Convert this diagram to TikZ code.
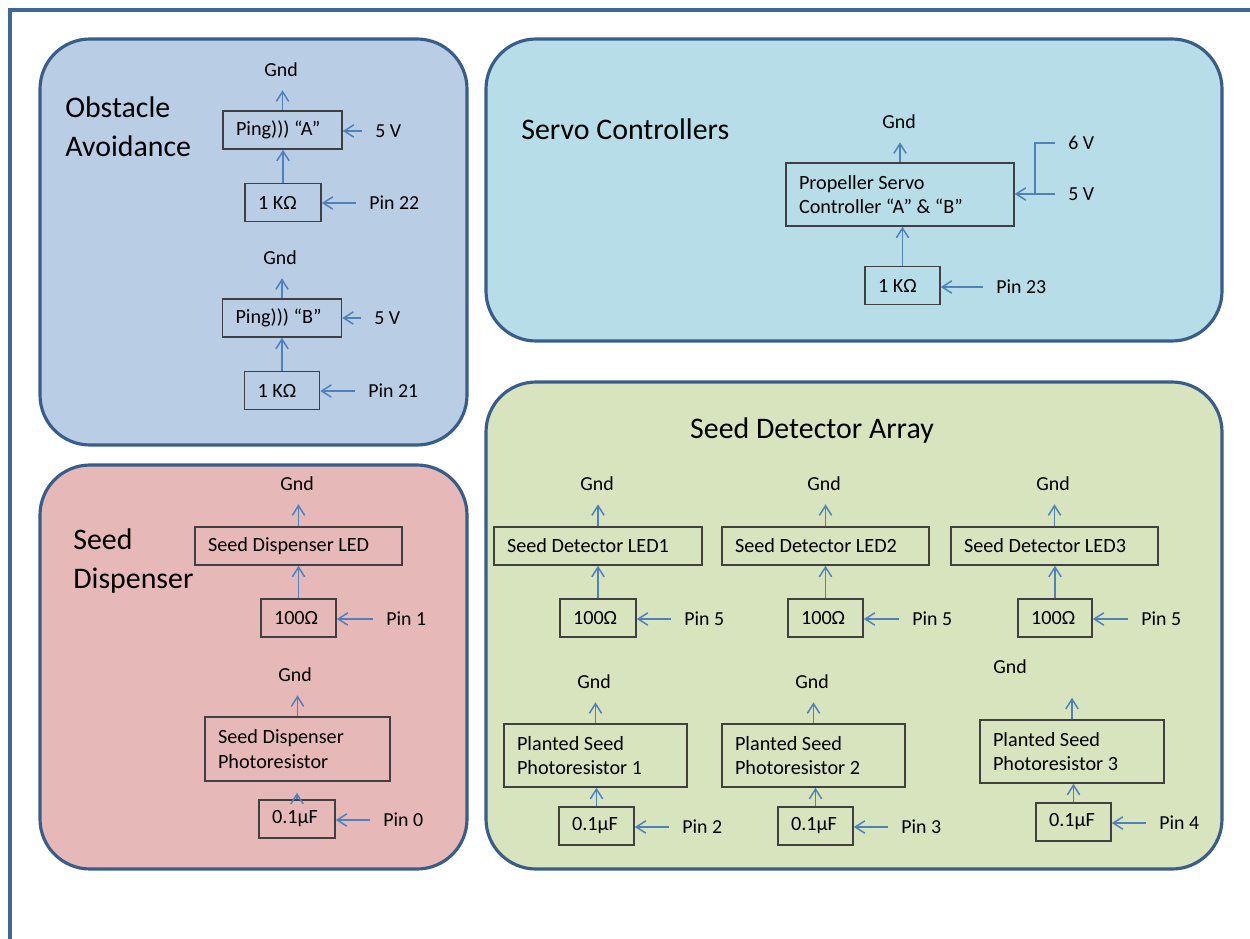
\documentclass[tikz,border=0pt]{standalone}
\usepackage{fontspec}
\setmainfont{Carlito}
\usetikzlibrary{arrows.meta}
\definecolor{framecol}{HTML}{41679A}
\definecolor{panelline}{HTML}{385D8A}
\definecolor{obstfill}{HTML}{B9CDE5}
\definecolor{servofill}{HTML}{B7DEE8}
\definecolor{dispfill}{HTML}{E6B9B8}
\definecolor{detfill}{HTML}{D7E4BD}
\definecolor{partline}{HTML}{404040}
\definecolor{wirecol}{HTML}{4F81BD}
\tikzset{
  panel/.style={draw=panelline, line width=1.8pt, rounded corners=1cm},
  part/.style={draw=partline, line width=0.9pt, inner xsep=0.26cm, inner ysep=0pt, minimum height=0.76cm, align=left, font=\fontsize{11.5}{14}\selectfont, execute at begin node={\spaceskip=0pt\xspaceskip=0pt}},
  lbl/.style={inner sep=0pt, font=\fontsize{11.3}{14}\selectfont},
  title/.style={inner sep=0pt, align=left, font=\fontsize{17}{22}\selectfont},
  wire/.style={draw=wirecol, line width=0.85pt, -{Straight Barb[length=5.5pt,width=7pt]}},
}

\begin{document}
\begin{tikzpicture}[x=0.02cm, y=-0.02cm]
\useasboundingbox (0,0) rectangle (1250,939);
\draw[framecol, line width=2pt] (1250,10) -- (10,10) -- (10,939);

\draw[panel, fill=obstfill] (40,39) rectangle (467,445);
\draw[panel, fill=servofill] (486,39) rectangle (1222,341);
\draw[panel, fill=dispfill] (40,465) rectangle (467,869);
\draw[panel, fill=detfill] (486,382) rectangle (1222,869);

\node[title, anchor=west] (obsT) at (65,127) {Obstacle\\Avoidance};
\node[lbl] (gndA) at (281,70) {Gnd};
\node[part, text width=1.86cm] (pingA) at (282.5,130) {Ping))) “A”};
\node[part, text width=1cm] (resA) at (283,202.5) {1 KΩ};
\node[lbl, anchor=west] (vA) at (375,131) {5 V};
\node[lbl, anchor=west] (pinA) at (369,203) {Pin 22};
\draw[wire, shorten >=0.26cm] (pingA.north) -- (pingA.north |- gndA.south);
\draw[wire] (resA.north) -- (resA.north |- pingA.south);
\draw[wire, shorten <=0.26cm] (vA.west) -- (vA.west -| pingA.east);
\draw[wire, shorten <=0.26cm] (pinA.west) -- (pinA.west -| resA.east);

\node[lbl] (gndB) at (280,258) {Gnd};
\node[part, text width=1.86cm] (pingB) at (282,318) {Ping))) “B”};
\node[part, text width=0.98cm] (resB) at (282,390.5) {1 KΩ};
\node[lbl, anchor=west] (vB) at (374,318) {5 V};
\node[lbl, anchor=west] (pinB) at (368,391) {Pin 21};
\draw[wire, shorten >=0.26cm] (pingB.north) -- (pingB.north |- gndB.south);
\draw[wire] (resB.north) -- (resB.north |- pingB.south);
\draw[wire, shorten <=0.26cm] (vB.west) -- (vB.west -| pingB.east);
\draw[wire, shorten <=0.26cm] (pinB.west) -- (pinB.west -| resB.east);

\node[title, anchor=west] (srvT) at (521,129) {Servo Controllers};
\node[lbl] (gndS) at (899,122) {Gnd};
\node[part, text width=4.04cm, minimum height=1.26cm] (srv) at (900,194.5) {Propeller Servo\\Controller “A” \& “B”};
\node[part, text width=0.98cm] (resS) at (902.5,285.5) {1 KΩ};
\node[lbl, anchor=west] (v6) at (1068,143) {6 V};
\node[lbl, anchor=west] (v5) at (1068,194) {5 V};
\node[lbl, anchor=west] (pinS) at (996,287) {Pin 23};
\draw[wire, shorten >=0.26cm] (srv.north) -- (srv.north |- gndS.south);
\draw[wire] (resS.north) -- (resS.north |- srv.south);
\draw[wire, -] ([xshift=-0.26cm]v6.west) -| ([xshift=-0.66cm]v5.west);
\draw[wire, shorten <=0.26cm] (v5.west) -- (v5.west -| srv.east);
\draw[wire, shorten <=0.26cm] (pinS.west) -- (pinS.west -| resS.east);

\node[title, anchor=west] (dspT) at (73,561) {Seed\\Dispenser};
\node[lbl] (gndD1) at (297,484) {Gnd};
\node[part, text width=3.62cm] (ledD) at (298.5,546) {Seed Dispenser LED};
\node[part, text width=0.98cm] (resD) at (298.5,618) {100Ω};
\node[lbl, anchor=west] (pinD1) at (386,619) {Pin 1};
\draw[wire, shorten >=0.26cm] (ledD.north) -- (ledD.north |- gndD1.south);
\draw[wire] (resD.north) -- (resD.north |- ledD.south);
\draw[wire, shorten <=0.26cm] (pinD1.west) -- (pinD1.west -| resD.east);

\node[lbl] (gndD2) at (295,675) {Gnd};
\node[part, text width=3.18cm, minimum height=1.28cm] (prD) at (297.5,749) {Seed Dispenser\\Photoresistor};
\node[part, text width=1cm] (capD) at (297,819) {0.1µF};
\node[lbl, anchor=west] (pinD0) at (383,820) {Pin 0};
\draw[wire, shorten >=0.26cm] (prD.north) -- (prD.north |- gndD2.south);
\draw[wire, shorten >=0.22cm] (capD.north) -- (capD.north |- prD.south);
\draw[wire, shorten <=0.26cm] (pinD0.west) -- (pinD0.west -| capD.east);

\node[title] (detT) at (812,431) {Seed Detector Array};
\node[lbl] (gndL1) at (597,484) {Gnd};
\node[part, text width=3.64cm] (led1) at (598,546) {Seed Detector LED1};
\node[part, text width=1cm] (res1) at (598,618) {100Ω};
\node[lbl, anchor=west] (pinL1) at (684,619) {Pin 5};
\draw[wire, shorten >=0.26cm] (led1.north) -- (led1.north |- gndL1.south);
\draw[wire] (res1.north) -- (res1.north |- led1.south);
\draw[wire, shorten <=0.26cm] (pinL1.west) -- (pinL1.west -| res1.east);

\node[lbl] (gndL2) at (824,484) {Gnd};
\node[part, text width=3.62cm] (led2) at (825.5,546) {Seed Detector LED2};
\node[part, text width=0.98cm] (res2) at (825.5,618) {100Ω};
\node[lbl, anchor=west] (pinL2) at (912,619) {Pin 5};
\draw[wire, shorten >=0.26cm] (led2.north) -- (led2.north |- gndL2.south);
\draw[wire] (res2.north) -- (res2.north |- led2.south);
\draw[wire, shorten <=0.26cm] (pinL2.west) -- (pinL2.west -| res2.east);

\node[lbl] (gndL3) at (1053,484) {Gnd};
\node[part, text width=3.62cm] (led3) at (1054.5,546) {Seed Detector LED3};
\node[part, text width=0.96cm] (res3) at (1055,618) {100Ω};
\node[lbl, anchor=west] (pinL3) at (1141,619) {Pin 5};
\draw[wire, shorten >=0.26cm] (led3.north) -- (led3.north |- gndL3.south);
\draw[wire] (res3.north) -- (res3.north |- led3.south);
\draw[wire, shorten <=0.26cm] (pinL3.west) -- (pinL3.west -| res3.east);

\node[lbl] (gndP1) at (594,682) {Gnd};
\node[part, text width=3.14cm, minimum height=1.26cm] (ps1) at (595.5,755.5) {Planted Seed\\Photoresistor 1};
\node[part, text width=0.98cm] (cap1) at (596.5,826) {0.1µF};
\node[lbl, anchor=west] (pinP1) at (682,827) {Pin 2};
\draw[wire, shorten >=0.26cm] (ps1.north) -- (ps1.north |- gndP1.south);
\draw[wire] (cap1.north) -- (cap1.north |- ps1.south);
\draw[wire, shorten <=0.26cm] (pinP1.west) -- (pinP1.west -| cap1.east);

\node[lbl] (gndP2) at (812,682) {Gnd};
\node[part, text width=3.14cm, minimum height=1.26cm] (ps2) at (813.5,755.5) {Planted Seed\\Photoresistor 2};
\node[part, text width=0.98cm] (cap2) at (815.5,826) {0.1µF};
\node[lbl, anchor=west] (pinP2) at (901,827) {Pin 3};
\draw[wire, shorten >=0.26cm] (ps2.north) -- (ps2.north |- gndP2.south);
\draw[wire] (cap2.north) -- (cap2.north |- ps2.south);
\draw[wire, shorten <=0.26cm] (pinP2.west) -- (pinP2.west -| cap2.east);

\node[lbl] (gndP3) at (1010,667) {Gnd};
\node[part, text width=3.16cm, minimum height=1.26cm] (ps3) at (1072,751.5) {Planted Seed\\Photoresistor 3};
\node[part, text width=0.98cm] (cap3) at (1073.5,822) {0.1µF};
\node[lbl, anchor=west] (pinP3) at (1159,823) {Pin 4};
\draw[wire, shorten >=0.47cm] (ps3.north) -- (ps3.north |- gndP3.south);
\draw[wire] (cap3.north) -- (cap3.north |- ps3.south);
\draw[wire, shorten <=0.26cm] (pinP3.west) -- (pinP3.west -| cap3.east);
\end{tikzpicture}
\end{document}
